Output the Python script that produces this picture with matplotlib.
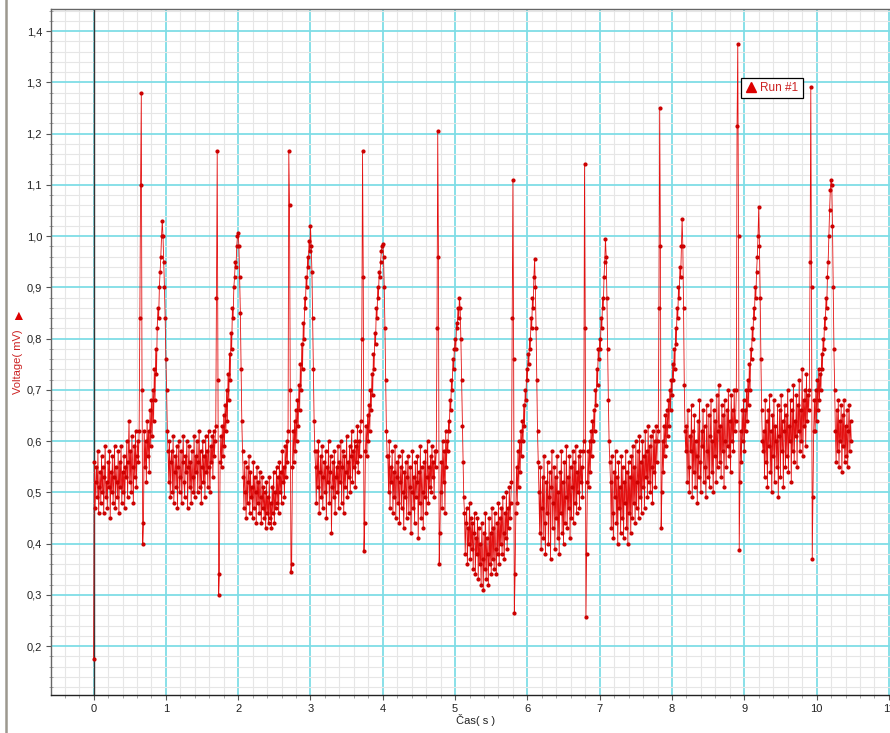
import numpy as np
import matplotlib
matplotlib.use('Agg')
import matplotlib.pyplot as plt
from matplotlib.ticker import MultipleLocator, FuncFormatter
from matplotlib.lines import Line2D

plt.rcParams['font.family'] = ['Liberation Sans', 'DejaVu Sans']

# krok vzorkovani (s)
dt = 0.01

# napeti v mV, po sekundach (100 vzorku na sekundu)
s0 = [0.175,
      0.56, 0.47, 0.52, 0.55, 0.49, 0.58, 0.46, 0.51, 0.54, 0.48,
      0.57, 0.50, 0.55, 0.46, 0.53, 0.59, 0.49, 0.52, 0.47, 0.56,
      0.51, 0.58, 0.45, 0.54, 0.50, 0.57, 0.48, 0.53, 0.59, 0.47,
      0.55, 0.52, 0.49, 0.58, 0.46, 0.56, 0.51, 0.59, 0.48, 0.54,
      0.50, 0.57, 0.47, 0.55, 0.53, 0.60, 0.49, 0.56, 0.64, 0.52,
      0.58, 0.50, 0.61, 0.55, 0.48, 0.59, 0.53, 0.62, 0.51, 0.57, 0.60,
      0.56, 0.62, 0.84, 1.10, 1.28, 0.70, 0.40,
      0.44, 0.62, 0.55, 0.60, 0.52, 0.64, 0.57, 0.62, 0.54, 0.66,
      0.59, 0.68, 0.61, 0.70, 0.64, 0.74, 0.68, 0.78, 0.73, 0.82,
      0.86, 0.84, 0.90, 0.93, 0.96, 1.00, 1.03, 1.00, 0.95, 0.90, 0.84]
s1 = [0.76, 0.70, 0.62, 0.58,
      0.52, 0.60, 0.49, 0.56, 0.58, 0.50, 0.61, 0.48, 0.54, 0.57,
      0.51, 0.59, 0.47, 0.55, 0.60, 0.50, 0.53, 0.58, 0.48, 0.56,
      0.61, 0.52, 0.49, 0.57, 0.54, 0.60, 0.47, 0.55, 0.59, 0.51,
      0.56, 0.48, 0.58, 0.53, 0.50, 0.61, 0.49, 0.57, 0.54, 0.60,
      0.50, 0.56, 0.62, 0.51, 0.58, 0.48, 0.55, 0.60, 0.52, 0.57,
      0.49, 0.61, 0.54, 0.58, 0.51, 0.62, 0.55, 0.50, 0.59, 0.56,
      0.61, 0.53, 0.62, 0.57,
      0.60, 0.63, 0.88, 1.165, 0.72, 0.30, 0.34, 0.56,
      0.61, 0.55, 0.63, 0.57, 0.65, 0.59, 0.67, 0.62, 0.70, 0.64,
      0.73, 0.68, 0.77, 0.72, 0.81, 0.78, 0.86, 0.84, 0.90, 0.92,
      0.95, 0.94, 0.98, 1.00]
s2 = [1.005, 0.98, 0.92, 0.85, 0.74, 0.64, 0.58,
      0.53, 0.47, 0.56, 0.50, 0.45, 0.55, 0.48, 0.52, 0.57, 0.46,
      0.54, 0.49, 0.51, 0.45, 0.56, 0.47, 0.53, 0.50, 0.44, 0.55,
      0.48, 0.52, 0.46, 0.54, 0.49, 0.44, 0.53, 0.47, 0.51, 0.45,
      0.50, 0.43, 0.52, 0.46, 0.49, 0.44, 0.53, 0.45, 0.48, 0.43,
      0.51, 0.46, 0.54, 0.44, 0.50, 0.47, 0.55, 0.48, 0.53, 0.46,
      0.56, 0.50, 0.54, 0.48, 0.58, 0.52, 0.55, 0.49, 0.59, 0.53, 0.60,
      0.56, 0.62, 1.165, 1.06, 0.70, 0.345, 0.36, 0.55,
      0.62, 0.56, 0.64, 0.58, 0.66, 0.60, 0.68, 0.63, 0.71, 0.66,
      0.75, 0.70, 0.79, 0.74, 0.83, 0.80, 0.88, 0.86, 0.92, 0.90,
      0.96, 0.94, 0.99, 0.97]
s3 = [1.02, 0.98, 0.93, 0.84, 0.74, 0.64, 0.58,
      0.55, 0.48, 0.58, 0.51, 0.60, 0.46, 0.54, 0.57, 0.49, 0.59,
      0.47, 0.53, 0.56, 0.50, 0.58, 0.45, 0.55, 0.52, 0.60, 0.48,
      0.54, 0.57, 0.42, 0.51, 0.56, 0.49, 0.58, 0.46, 0.53, 0.55,
      0.50, 0.59, 0.47, 0.56, 0.52, 0.60, 0.48, 0.55, 0.58, 0.46,
      0.57, 0.51, 0.54, 0.61, 0.49, 0.56, 0.53, 0.59, 0.50, 0.57,
      0.62, 0.52, 0.58, 0.55, 0.60, 0.51, 0.59, 0.56, 0.63, 0.54,
      0.60, 0.57, 0.62,
      0.64, 0.80, 1.165, 0.92, 0.385, 0.44, 0.58,
      0.63, 0.57, 0.65, 0.60, 0.67, 0.62, 0.70, 0.66, 0.73, 0.69,
      0.77, 0.74, 0.81, 0.79, 0.86, 0.84, 0.90, 0.88, 0.93, 0.92,
      0.95, 0.97, 0.98]
s4 = [0.985, 0.96, 0.90, 0.82, 0.72, 0.62, 0.57,
      0.57, 0.50, 0.60, 0.47, 0.55, 0.52, 0.58, 0.46, 0.54, 0.49,
      0.59, 0.45, 0.53, 0.56, 0.48, 0.57, 0.44, 0.52, 0.55, 0.47,
      0.58, 0.50, 0.43, 0.54, 0.49, 0.56, 0.45, 0.53, 0.57, 0.46,
      0.51, 0.55, 0.42, 0.50, 0.58, 0.47, 0.53, 0.44, 0.56, 0.49,
      0.52, 0.57, 0.41, 0.54, 0.48, 0.59, 0.45, 0.55, 0.50, 0.43,
      0.56, 0.49, 0.58, 0.46, 0.53, 0.60, 0.48, 0.55, 0.51, 0.57,
      0.50, 0.59, 0.53, 0.56, 0.49, 0.58, 0.55,
      0.58, 0.82, 1.205, 0.96, 0.36, 0.42,
      0.50, 0.56, 0.47, 0.60, 0.52, 0.58, 0.46, 0.62, 0.55, 0.60,
      0.58, 0.64, 0.62, 0.68, 0.66, 0.72, 0.70, 0.76, 0.74, 0.78]
s5 = [0.80, 0.78, 0.83, 0.82, 0.86, 0.84, 0.88, 0.86, 0.80, 0.72, 0.63, 0.56, 0.49,
      0.46, 0.38, 0.44, 0.47, 0.36, 0.43, 0.40, 0.48, 0.37, 0.45,
      0.39, 0.44, 0.35, 0.42, 0.46, 0.34, 0.41, 0.38, 0.45, 0.33,
      0.43, 0.36, 0.40, 0.32, 0.44, 0.37, 0.31, 0.42, 0.35, 0.46,
      0.33, 0.41, 0.38, 0.32, 0.45, 0.36, 0.42, 0.34, 0.47, 0.37,
      0.43, 0.35, 0.46, 0.39, 0.34, 0.44, 0.38, 0.48, 0.36, 0.45,
      0.40, 0.47, 0.38, 0.49, 0.42, 0.37, 0.46, 0.41, 0.50, 0.39,
      0.47, 0.43, 0.51, 0.45,
      0.48, 0.52, 0.84, 1.11, 0.76, 0.265, 0.34, 0.46,
      0.55, 0.48, 0.58, 0.51, 0.60, 0.54, 0.62, 0.57, 0.64, 0.60,
      0.67, 0.63, 0.70, 0.68, 0.74]
s6 = [0.72, 0.77, 0.75, 0.80, 0.78, 0.84, 0.82, 0.88, 0.86, 0.92,
      0.955, 0.90, 0.82, 0.72, 0.62, 0.56,
      0.50, 0.42, 0.55, 0.39, 0.47, 0.53, 0.41, 0.57, 0.44, 0.38,
      0.52, 0.46, 0.56, 0.40, 0.49, 0.54, 0.37, 0.51, 0.58, 0.43,
      0.48, 0.55, 0.39, 0.53, 0.45, 0.57, 0.41, 0.50, 0.38, 0.54,
      0.46, 0.58, 0.42, 0.52, 0.40, 0.56, 0.44, 0.49, 0.59, 0.43,
      0.53, 0.47, 0.57, 0.41, 0.55, 0.45, 0.51, 0.58, 0.44, 0.56,
      0.48, 0.59, 0.46, 0.54, 0.50, 0.57, 0.47, 0.58, 0.52, 0.55,
      0.49, 0.58,
      0.60, 1.14, 0.82, 0.256, 0.38, 0.52,
      0.58, 0.51, 0.60, 0.54, 0.62, 0.57, 0.64, 0.60, 0.66, 0.62,
      0.70, 0.67, 0.74, 0.71, 0.78, 0.76]
s7 = [0.80, 0.78, 0.84, 0.82, 0.88, 0.86, 0.92, 0.95, 0.995, 0.96,
      0.88, 0.78, 0.68, 0.60, 0.56,
      0.52, 0.43, 0.57, 0.46, 0.41, 0.54, 0.49, 0.58, 0.44, 0.53,
      0.40, 0.56, 0.47, 0.51, 0.42, 0.57, 0.45, 0.55, 0.41, 0.52,
      0.48, 0.58, 0.43, 0.54, 0.40, 0.56, 0.46, 0.53, 0.42, 0.57,
      0.45, 0.59, 0.48, 0.55, 0.44, 0.60, 0.47, 0.52, 0.58, 0.45,
      0.61, 0.49, 0.56, 0.46, 0.60, 0.51, 0.57, 0.47, 0.62, 0.53,
      0.58, 0.49, 0.63, 0.52, 0.59, 0.50, 0.61, 0.55, 0.48, 0.62,
      0.54, 0.60, 0.51, 0.63, 0.56, 0.60,
      0.62, 0.86, 1.25, 0.98, 0.43, 0.50,
      0.60, 0.54, 0.63, 0.57, 0.65, 0.59, 0.66, 0.61, 0.68, 0.63,
      0.70, 0.66, 0.72]
s8 = [0.69, 0.75, 0.72, 0.78, 0.74, 0.82, 0.79, 0.86, 0.84, 0.90,
      0.88, 0.94, 0.92, 0.98, 1.033, 0.98, 0.86, 0.71, 0.62, 0.58,
      0.63, 0.52, 0.66, 0.55, 0.50, 0.61, 0.58, 0.67, 0.49, 0.62,
      0.54, 0.65, 0.51, 0.60, 0.57, 0.48, 0.64, 0.53, 0.68, 0.56,
      0.50, 0.62, 0.59, 0.66, 0.52, 0.63, 0.55, 0.49, 0.67, 0.58,
      0.53, 0.65, 0.51, 0.61, 0.68, 0.54, 0.60, 0.50, 0.66, 0.57,
      0.64, 0.52, 0.69, 0.55, 0.62, 0.71, 0.56, 0.63, 0.53, 0.67,
      0.58, 0.65, 0.51, 0.68, 0.60, 0.55, 0.66, 0.59, 0.70, 0.57,
      0.64, 0.54, 0.69, 0.60, 0.66, 0.58, 0.70, 0.62,
      0.64, 0.70, 1.215, 1.375, 1.00, 0.387, 0.52,
      0.62, 0.56, 0.66, 0.60, 0.68]
s9 = [0.58, 0.66, 0.62, 0.70, 0.64, 0.72, 0.67, 0.75, 0.70, 0.78,
      0.76, 0.82, 0.80, 0.86, 0.84, 0.90, 0.88, 0.93, 0.96, 1.00,
      1.057, 0.98, 0.88, 0.76, 0.66,
      0.60, 0.58, 0.62,
      0.53, 0.68, 0.56, 0.64, 0.51, 0.66, 0.59, 0.69, 0.54, 0.62,
      0.50, 0.65, 0.57, 0.68, 0.52, 0.63, 0.60, 0.55, 0.67, 0.49,
      0.61, 0.66, 0.53, 0.69, 0.58, 0.64, 0.51, 0.62, 0.67, 0.55,
      0.65, 0.57, 0.70, 0.54, 0.63, 0.60, 0.68, 0.52, 0.66, 0.58,
      0.71, 0.56, 0.64, 0.61, 0.69, 0.55, 0.67, 0.62, 0.72, 0.58,
      0.66, 0.60, 0.74, 0.57, 0.68, 0.63, 0.70, 0.59, 0.73, 0.64,
      0.69, 0.66,
      0.70, 0.95, 1.29, 0.90, 0.37, 0.49, 0.62,
      0.68, 0.62, 0.70]
s10 = [0.64, 0.72, 0.66, 0.74, 0.68, 0.73, 0.70, 0.77, 0.74, 0.80,
       0.78, 0.84, 0.82, 0.88, 0.86, 0.92, 0.95, 1.00, 1.05, 1.09,
       1.11, 1.10, 1.02, 0.90, 0.78, 0.70,
       0.62, 0.56, 0.66, 0.58, 0.68, 0.55, 0.64, 0.60, 0.67, 0.54,
       0.65, 0.59, 0.68, 0.56, 0.63, 0.57, 0.66, 0.55, 0.62, 0.67,
       0.58, 0.64, 0.60]

napeti = np.array(s0 + s1 + s2 + s3 + s4 + s5 + s6 + s7 + s8 + s9 + s10)
cas = np.arange(len(napeti)) * dt

W, H = 890, 733
fig = plt.figure(figsize=(W / 100, H / 100), dpi=100)
# osa: levy okraj 51 px, 72.3 px na sekundu, 512.5 px na mV
ax = fig.add_axes([51 / W, (H - 695) / H, (905 - 51) / W, (695 - 9) / H])
ax.set_xlim(-0.589, -0.589 + (905 - 51) / 72.3)
ax.set_ylim(0.1044, 1.443)

ax.plot(cas, napeti, color='#e41010', lw=0.6, marker='o', markersize=2.0,
        markerfacecolor='#cc0000', markeredgecolor='#cc0000', zorder=3,
        label='Run #1')
ax.axvline(0, color='#333333', lw=1.0, zorder=2)

ax.xaxis.set_major_locator(MultipleLocator(1))
ax.xaxis.set_minor_locator(MultipleLocator(0.2))
ax.yaxis.set_major_locator(MultipleLocator(0.1))
ax.yaxis.set_minor_locator(MultipleLocator(0.02))
ax.xaxis.set_major_formatter(FuncFormatter(lambda x, p: f'{x:.0f}'))
ax.yaxis.set_major_formatter(FuncFormatter(lambda y, p: f'{y:.1f}'.replace('.', ',')))

ax.set_axisbelow(True)
ax.grid(which='minor', color='#e6e6e6', lw=0.8)
ax.grid(which='major', color='#7fdde6', lw=1.3)

ax.tick_params(which='major', direction='out', length=3.5, width=0.8,
               color='#555555', labelsize=8, pad=3, labelcolor='#222222')
ax.tick_params(which='minor', direction='out', length=2.5, width=0.6,
               color='#999999')
ax.tick_params(axis='y', which='minor', direction='inout', length=3)
ax.spines['right'].set_visible(False)
ax.spines['left'].set_color('#666666')
ax.spines['top'].set_color('#666666')
ax.spines['bottom'].set_color('#222222')
for s in ['left', 'top', 'bottom']:
    ax.spines[s].set_linewidth(1.0)

fig.text(18 / W, 1 - 362 / H, 'Voltage( mV)', rotation=90,
         color='#cc2222', fontsize=8, ha='center', va='center')
fig.text(18 / W, 1 - 316 / H, '\u25b2', color='#dd0000', fontsize=10,
         ha='center', va='center')
fig.text(476 / W, 1 - 720 / H, '\u010cas( s )', color='#222222',
         fontsize=8, ha='center', va='center')

h = Line2D([], [], marker='^', color='#dd0000', ls='none', markersize=7)
leg = ax.legend([h], ['Run #1'], loc='upper left',
                bbox_to_anchor=(741 / W, 1 - 78 / H),
                bbox_transform=fig.transFigure, fancybox=False,
                edgecolor='black', framealpha=1, borderpad=0.35,
                handletextpad=0.3, handlelength=1.0, borderaxespad=0,
                fontsize=8.5)
leg.get_frame().set_linewidth(0.9)
for t in leg.get_texts():
    t.set_color('#cc2222')

# sedy pruh u leveho okraje
fig.add_artist(Line2D([6 / W, 6 / W], [0, 1], transform=fig.transFigure,
                      color='#9c988f', lw=1.8))

fig.savefig('out.png', dpi=100)
